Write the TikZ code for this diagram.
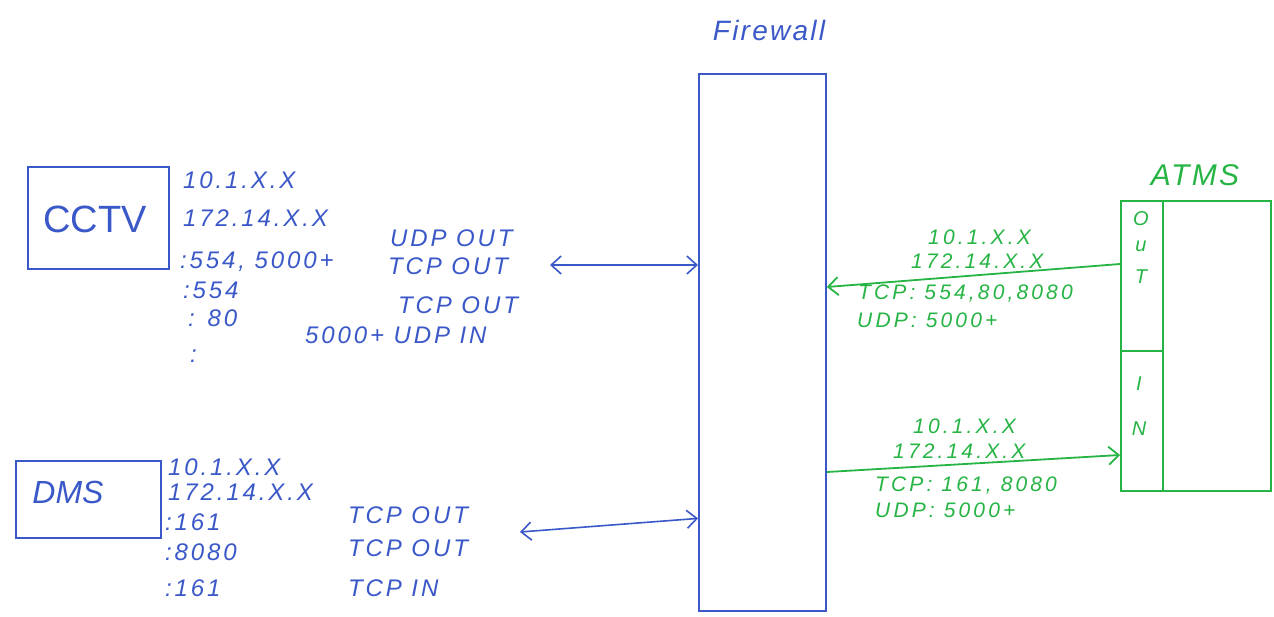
\documentclass[tikz,border=0pt]{standalone}
\usepackage{fontspec}
\setmainfont{Liberation Sans}
\usetikzlibrary{arrows.meta,calc}
\definecolor{pen}{RGB}{58,88,200}
\definecolor{gpen}{RGB}{38,180,68}
\begin{document}
\begin{tikzpicture}[x=1pt,y=-1pt,
  btxt/.style={font=\fontsize{24}{26}\selectfont\itshape\addfontfeature{LetterSpace=12}, text=pen, inner sep=0pt, anchor=west},
  gtxt/.style={font=\fontsize{21}{23}\selectfont\itshape\addfontfeature{LetterSpace=15}, text=gpen, inner sep=0pt, anchor=west},
  gletter/.style={font=\fontsize{20}{22}\selectfont\itshape, text=gpen, inner sep=0pt, anchor=center},
  bbox/.style={draw=pen, line width=1.8pt, inner sep=0pt},
  gbox/.style={draw=gpen, line width=1.8pt, inner sep=0pt},
  barrow/.style={draw=pen, line width=1.6pt, {Straight Barb[length=10pt,width=18pt]}-{Straight Barb[length=10pt,width=18pt]}},
  garrow/.style={draw=gpen, line width=1.8pt, -{Straight Barb[length=10pt,width=18pt]}}]
\useasboundingbox[fill=white] (0,0) rectangle (1274,616);

% Firewall
\node[font=\fontsize{28}{30}\selectfont\itshape\addfontfeature{LetterSpace=8}, text=pen] (fwlabel) at (769,30) {Firewall};
\node[bbox, minimum width=127pt, minimum height=537pt, anchor=north west] (fw) at (698,73) {};

% CCTV
\node[bbox, minimum width=141pt, minimum height=102pt, anchor=north west] (cctvbox) at (27,166) {};
\node[font=\fontsize{38}{40}\selectfont, text=pen] (cctv) at (95,219) {CCTV};
\node[btxt] (c1) at (183,180) {10.1.X.X};
\node[btxt] (c2) at (183,218) {172.14.X.X};
\node[btxt] (c3) at (180,262) {:554, 5000+};
\node[btxt] (c4) at (183,290) {:554};
\node[btxt] (c5) at (188,318) {: 80};
\node[btxt] (c6) at (190,356) {:};
\node[btxt] (c7) at (390,238) {UDP OUT};
\node[btxt] (c8) at (388,266) {TCP OUT};
\node[btxt] (c9) at (398,305) {TCP OUT};
\node[btxt] (c10) at (305,335) {5000+ UDP IN};
\coordinate (ca) at (550,265);
\draw[barrow] (ca) -- (ca -| fw.west);

% DMS
\node[bbox, minimum width=145pt, minimum height=77pt, anchor=north west] (dmsbox) at (15,460) {};
\node[font=\fontsize{32}{34}\selectfont\itshape, text=pen] (dms) at (68,492) {DMS};
\node[btxt] (d1) at (168,467) {10.1.X.X};
\node[btxt] (d2) at (168,492) {172.14.X.X};
\node[btxt] (d3) at (165,522) {:161};
\node[btxt] (d4) at (165,552) {:8080};
\node[btxt] (d5) at (165,588) {:161};
\node[btxt] (d6) at (348,515) {TCP OUT};
\node[btxt] (d7) at (348,548) {TCP OUT};
\node[btxt] (d8) at (348,588) {TCP IN};
\coordinate (da) at (520,532);
\draw[barrow] (da) -- ($(fw.west)+(0,176)$);

% ATMS
\node[font=\fontsize{30}{32}\selectfont\itshape\addfontfeature{LetterSpace=8}, text=gpen] (atmslabel) at (1195,175) {ATMS};
\node[gbox, minimum width=150pt, minimum height=290pt, anchor=north west] (atms) at (1120,200) {};
\node[gbox, minimum width=42pt, minimum height=150pt, anchor=north west] (out) at (1120,200) {};
\node[gbox, minimum width=42pt, minimum height=140pt, anchor=north west] (in) at (1120,350) {};
\node[gletter] (o1) at (1141,219) {O};
\node[gletter] (o2) at (1141,246) {u};
\node[gletter] (o3) at (1141,277) {T};
\node[gletter] (i1) at (1139,384) {I};
\node[gletter] (i2) at (1139,429) {N};

\node[gtxt] (g1) at (928,237) {10.1.X.X};
\node[gtxt] (g2) at (911,261) {172.14.X.X};
\node[gtxt] (g3) at (858,294) {TCP: 554,80,8080};
\node[gtxt] (g4) at (857,320) {UDP: 5000+};
\draw[garrow] (out.west |- 0,264) -- (fw.east |- 0,287);

\node[gtxt] (h1) at (913,426) {10.1.X.X};
\node[gtxt] (h2) at (893,451) {172.14.X.X};
\node[gtxt] (h3) at (875,486) {TCP: 161, 8080};
\node[gtxt] (h4) at (875,510) {UDP: 5000+};
\draw[garrow] (fw.east |- 0,472) -- (in.west |- 0,455);
\end{tikzpicture}
\end{document}
